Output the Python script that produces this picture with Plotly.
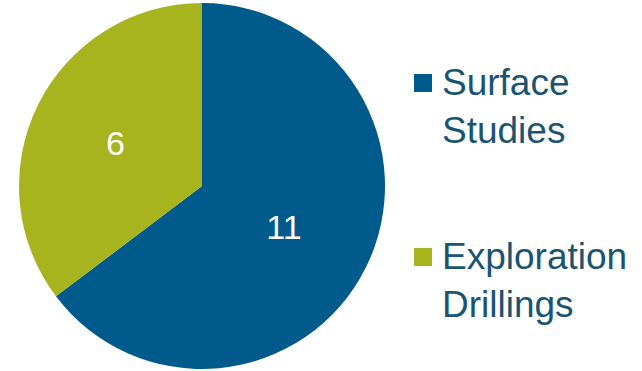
import plotly.graph_objects as go

labels = ["Surface Studies", "Exploration Drillings"]
legend_lines = ["Surface<br>Studies", "Exploration<br>Drillings"]
values = [11, 6]
colors = ["#005A8C", "#A8B41E"]

W, H = 642, 371
FONT = "Liberation Sans, Arial, sans-serif"

fig = go.Figure(go.Pie(
    labels=labels, values=values, sort=False, direction="clockwise", rotation=0,
    marker=dict(colors=colors, line=dict(width=0)),
    textinfo="value", textposition="inside", insidetextorientation="horizontal",
    textfont=dict(family=FONT, size=34, color="white"),
    domain=dict(x=[19 / W, 385 / W], y=[2 / H, 368 / H]),
    showlegend=False, hoverinfo="label+value",
))

sq_y = [83, 257]
txt_y = [106, 280]
for i in range(len(labels)):
    fig.add_shape(type="rect", xref="paper", yref="paper",
                  x0=414 / W, x1=432 / W, y0=1 - (sq_y[i] + 9) / H, y1=1 - (sq_y[i] - 9) / H,
                  fillcolor=colors[i], line=dict(width=0))
    fig.add_annotation(xref="paper", yref="paper", x=440 / W, y=1 - txt_y[i] / H,
                       xanchor="left", yanchor="middle", align="left", showarrow=False,
                       text=legend_lines[i],
                       font=dict(family=FONT, size=37, color="#1A5471"))

fig.update_layout(width=W, height=H, margin=dict(l=0, r=0, t=0, b=0),
                  paper_bgcolor="white", plot_bgcolor="white")
fig.write_html("out.html")
